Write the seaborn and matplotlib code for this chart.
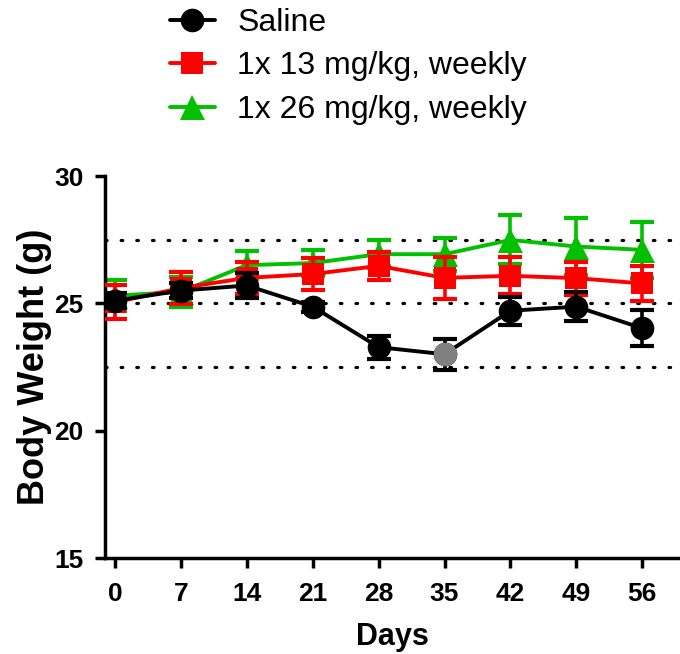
import numpy as np
import pandas as pd
import seaborn as sns
import matplotlib
matplotlib.use("Agg")
import matplotlib.pyplot as plt
from matplotlib.lines import Line2D

days = [0, 7, 14, 21, 28, 35, 42, 49, 56]
groups = ["Saline", "1x 13 mg/kg, weekly", "1x 26 mg/kg, weekly"]

saline_mean = [25.1, 25.5, 25.7, 24.87, 23.28, 23.0, 24.71, 24.87, 24.02]
saline_err = [0.3, 0.3, 0.5, 0.2, 0.45, 0.6, 0.55, 0.57, 0.7]
low_mean = [25.04, 25.6, 26.0, 26.15, 26.47, 26.0, 26.08, 25.99, 25.78]
low_err = [0.67, 0.62, 0.62, 0.63, 0.55, 0.82, 0.72, 0.65, 0.67]
high_mean = [25.3, 25.45, 26.5, 26.58, 26.93, 26.93, 27.49, 27.23, 27.1]
high_err = [0.6, 0.6, 0.55, 0.52, 0.55, 0.65, 0.96, 1.13, 1.1]

ref_lines = [22.5, 25.0, 27.5]
xticks = days
yticks = [15, 20, 25, 30]

sns.set_style("ticks")
plt.rcParams['font.family'] = ['Liberation Sans', 'DejaVu Sans']
plt.rcParams['text.color'] = 'black'
plt.rcParams['axes.labelcolor'] = 'black'
plt.rcParams['xtick.color'] = 'black'
plt.rcParams['ytick.color'] = 'black'

fig = plt.figure(figsize=(6.8, 6.54), dpi=100)
ax = fig.add_axes([104.5 / 680, 1 - 558 / 654, 1 - 104.5 / 680, (558 - 176) / 654])

for yv in ref_lines:
    ax.axhline(yv, color="black", lw=2.3, linestyle=(0, (0.5, 4.4)),
               dash_capstyle="round", zorder=1)

styles = {
    "Saline": dict(color="black", marker="o", ms=17, z=6),
    "1x 13 mg/kg, weekly": dict(color="#ff0000", marker="s", ms=16, z=4),
    "1x 26 mg/kg, weekly": dict(color="#00c000", marker="^", ms=18, z=2),
}
means = {groups[0]: saline_mean, groups[1]: low_mean, groups[2]: high_mean}
errs = {groups[0]: saline_err, groups[1]: low_err, groups[2]: high_err}

df = pd.concat([pd.DataFrame({"Days": days, "Weight": means[g], "Err": errs[g], "Group": g})
                for g in groups], ignore_index=True)

for g in groups[::-1]:
    st = styles[g]
    sub = df[df["Group"] == g]
    ax.errorbar(sub["Days"], sub["Weight"], yerr=sub["Err"], fmt="none",
                ecolor=st["color"], elinewidth=2.6, capsize=8.5, capthick=3,
                zorder=st["z"])
    sns.lineplot(data=sub, x="Days", y="Weight", ax=ax, color=st["color"],
                 marker=st["marker"], markersize=st["ms"], markeredgewidth=0,
                 lw=2.8, zorder=st["z"] + 0.5, legend=False)

# gray highlighted point for Saline at day 35
ax.plot([days[5]], [saline_mean[5]], marker="o", ms=17, color="#808080",
        markeredgewidth=0, zorder=7, linestyle="none")

ax.set_xlim(-1.1, 60)
ax.set_ylim(15, 30)
ax.set_xticks(xticks)
ax.set_yticks(yticks)
for s in ["top", "right"]:
    ax.spines[s].set_visible(False)
for s in ["left", "bottom"]:
    ax.spines[s].set_linewidth(2.5)
    ax.spines[s].set_color("black")
ax.tick_params(axis="both", width=2.5, length=7, direction="out", color="black",
               labelsize=19, pad=8, labelcolor="black")
ax.tick_params(axis="x", pad=10)
for lab in ax.get_xticklabels() + ax.get_yticklabels():
    lab.set_fontweight("bold")
ax.set_xlabel("Days", fontsize=22, fontweight="bold", labelpad=12, color="black")
ax.set_ylabel("Body Weight (g)", fontsize=26, fontweight="bold", labelpad=2, color="black")

handles = [Line2D([0], [0], color=styles[g]["color"], marker=styles[g]["marker"],
                  ms=styles[g]["ms"], lw=2.8, markeredgewidth=0) for g in groups]
fig.legend(handles, groups, loc="upper left", bbox_to_anchor=(170 / 680, 0.988),
           frameon=False, fontsize=23, handlelength=1.4, handletextpad=0.7,
           labelspacing=0.42, borderpad=0, borderaxespad=0, labelcolor="black")

fig.savefig("out.png", dpi=100)
